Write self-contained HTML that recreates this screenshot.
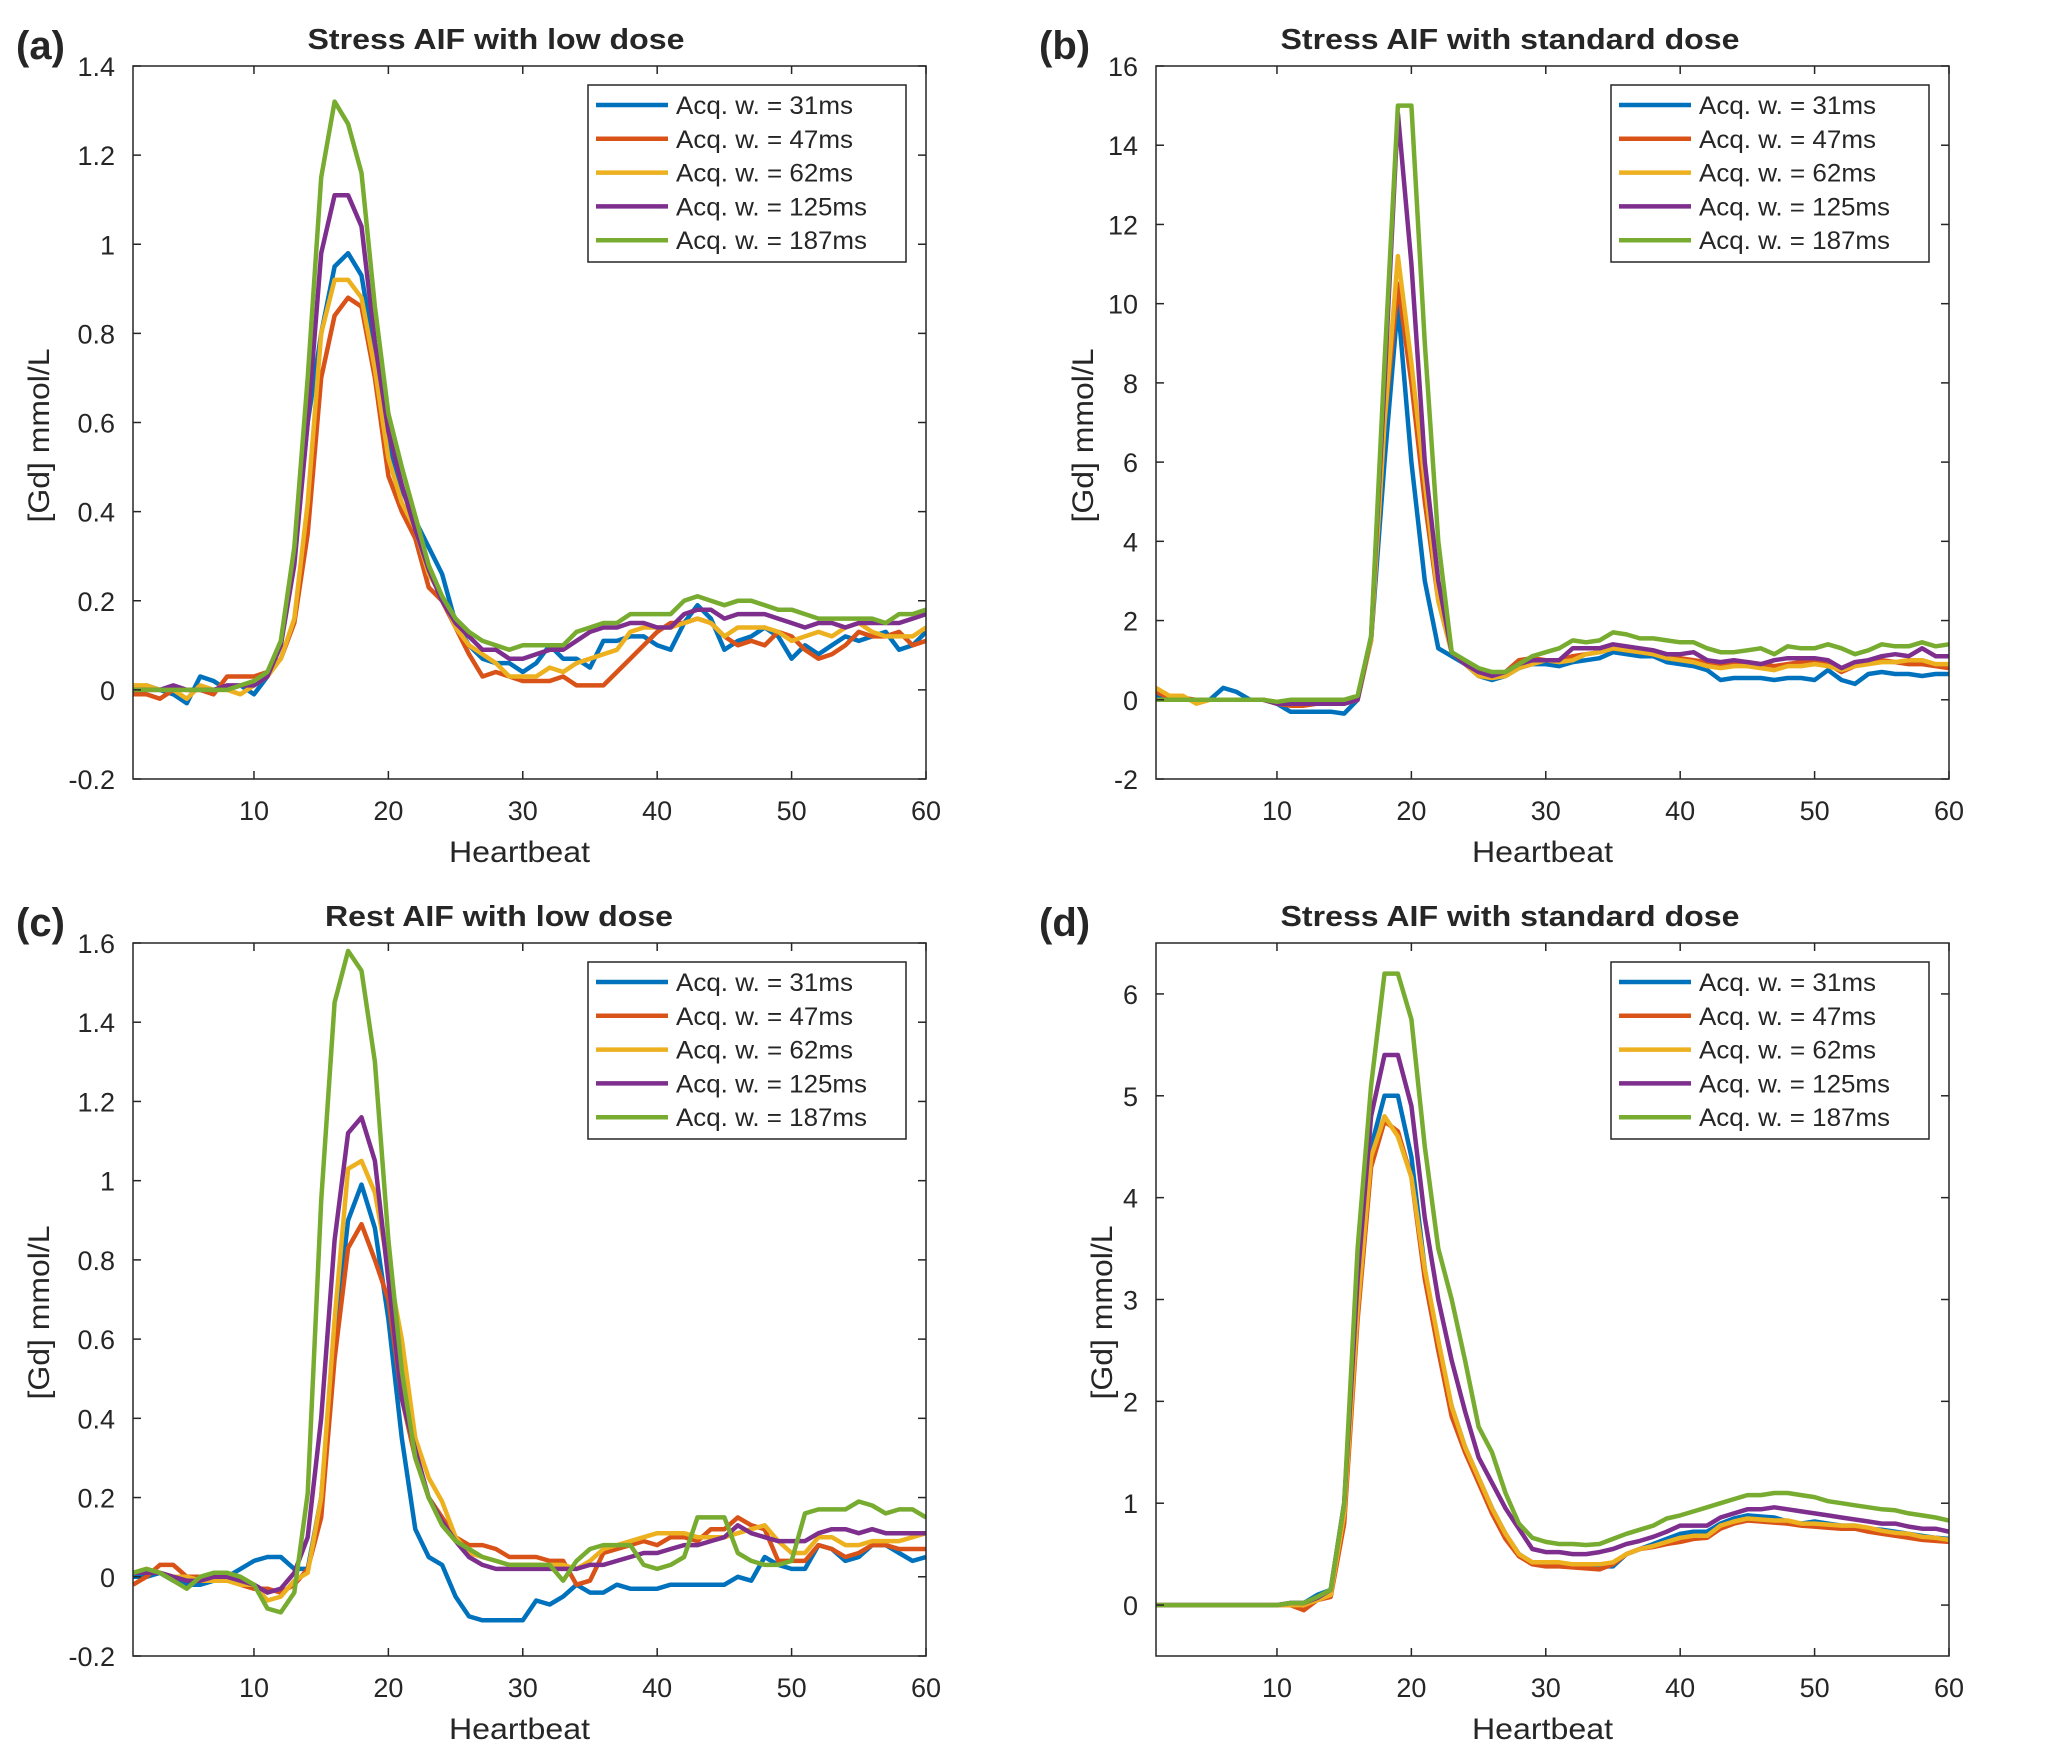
<!DOCTYPE html>
<html><head><meta charset="utf-8"><style>
html,body{margin:0;padding:0;background:#fff}
svg{display:block}
text{font-family:"Liberation Sans",Arial,sans-serif;fill:#262626}
</style></head><body>
<svg id="fig" width="2045" height="1753" viewBox="0 0 2045 1753" xmlns="http://www.w3.org/2000/svg"></svg>
<script>
const xs = Array.from({length:60},(_,i)=>i+1);
const seriesNames = ["Acq. w. = 31ms","Acq. w. = 47ms","Acq. w. = 62ms","Acq. w. = 125ms","Acq. w. = 187ms"];
const seriesColors = ["#0072BD","#D95319","#EDB120","#7E2F8E","#77AC30"];

const aBlue=[-0.01,0.01,0,-0.01,-0.03,0.03,0.02,0,0.01,-0.01,0.03,0.1,0.3,0.6,0.8,0.95,0.98,0.93,0.75,0.55,0.45,0.38,0.32,0.26,0.15,0.1,0.07,0.06,0.06,0.04,0.06,0.1,0.07,0.07,0.05,0.11,0.11,0.12,0.12,0.1,0.09,0.15,0.19,0.16,0.09,0.11,0.12,0.14,0.12,0.07,0.1,0.08,0.1,0.12,0.11,0.12,0.13,0.09,0.1,0.13];
const aOrange=[-0.01,-0.01,-0.02,0,0,0,-0.01,0.03,0.03,0.03,0.04,0.07,0.15,0.35,0.7,0.84,0.88,0.86,0.7,0.48,0.4,0.34,0.23,0.2,0.14,0.08,0.03,0.04,0.03,0.02,0.02,0.02,0.03,0.01,0.01,0.01,0.04,0.07,0.1,0.13,0.15,0.15,0.16,0.15,0.12,0.1,0.11,0.1,0.13,0.12,0.09,0.07,0.08,0.1,0.13,0.12,0.12,0.13,0.1,0.11];
const aYellow=[0.01,0.01,0,0,-0.02,0.01,0,0,-0.01,0.01,0.03,0.07,0.16,0.42,0.8,0.92,0.92,0.88,0.72,0.52,0.42,0.36,0.26,0.21,0.14,0.1,0.08,0.06,0.03,0.03,0.03,0.05,0.04,0.06,0.07,0.08,0.09,0.13,0.14,0.14,0.14,0.15,0.16,0.15,0.12,0.14,0.14,0.14,0.13,0.11,0.12,0.13,0.12,0.14,0.15,0.13,0.12,0.12,0.12,0.14];
const aPurple=[0,0,0,0.01,0,0,0,0.01,0.01,0.01,0.03,0.1,0.28,0.6,0.98,1.11,1.11,1.04,0.78,0.58,0.46,0.36,0.27,0.2,0.15,0.12,0.09,0.09,0.07,0.07,0.08,0.09,0.09,0.11,0.13,0.14,0.14,0.15,0.15,0.14,0.14,0.17,0.18,0.18,0.16,0.17,0.17,0.17,0.16,0.15,0.14,0.15,0.15,0.14,0.15,0.15,0.15,0.15,0.16,0.17];
const aGreen=[0,0,0,0,0,0,0,0,0.01,0.02,0.04,0.11,0.32,0.7,1.15,1.32,1.27,1.16,0.86,0.62,0.5,0.39,0.28,0.21,0.16,0.13,0.11,0.1,0.09,0.1,0.1,0.1,0.1,0.13,0.14,0.15,0.15,0.17,0.17,0.17,0.17,0.2,0.21,0.2,0.19,0.2,0.2,0.19,0.18,0.18,0.17,0.16,0.16,0.16,0.16,0.16,0.15,0.17,0.17,0.18];

const bBlue=[0.1,0,0,0,0,0.3,0.2,0,0,-0.1,-0.3,-0.3,-0.3,-0.3,-0.35,0,1.5,6,10,6,3,1.3,1.1,0.9,0.6,0.5,0.6,0.8,0.9,0.9,0.85,0.95,1.0,1.05,1.2,1.15,1.1,1.1,0.95,0.9,0.85,0.75,0.5,0.55,0.55,0.55,0.5,0.55,0.55,0.5,0.75,0.5,0.4,0.65,0.7,0.65,0.65,0.6,0.65,0.65];
const bOrange=[0.2,0.05,0.05,0,0,0,0,0,0,-0.1,-0.15,-0.15,-0.1,-0.1,-0.1,0,1.5,7,10.5,8,5,2.5,1.2,0.9,0.7,0.6,0.7,1.0,1.05,1.0,1.0,1.1,1.15,1.2,1.3,1.25,1.2,1.15,1.1,1.05,1.0,0.95,0.85,0.9,0.95,0.9,0.85,0.9,0.95,0.95,0.9,0.7,0.85,0.95,1.0,0.95,0.9,0.9,0.85,0.8];
const bYellow=[0.3,0.1,0.1,-0.1,0,0,0,0,0,-0.1,-0.1,-0.1,-0.1,-0.1,-0.1,0,1.5,7,11.2,8.5,5.5,2.5,1.2,0.9,0.6,0.55,0.6,0.8,0.9,1.0,0.95,1.0,1.15,1.2,1.3,1.25,1.2,1.15,1.05,1.0,0.95,0.85,0.8,0.85,0.85,0.8,0.75,0.85,0.85,0.9,0.85,0.75,0.85,0.9,0.95,0.95,1.0,1.0,0.9,0.9];
const bPurple=[0,0,0,0,0,0,0,0,0,-0.1,-0.1,-0.1,-0.1,-0.1,-0.1,0,1.6,8,14.8,11,6,3,1.2,0.9,0.7,0.6,0.7,0.9,1.0,1.0,1.0,1.3,1.3,1.3,1.4,1.35,1.3,1.25,1.15,1.15,1.2,1.0,0.95,1.0,0.95,0.9,1.0,1.05,1.05,1.05,1.0,0.8,0.95,1.0,1.1,1.15,1.1,1.3,1.1,1.1];
const bGreen=[0,0,0,0,0,0,0,0,0,-0.05,0,0,0,0,0,0.1,1.6,8.5,15,15,9,4,1.2,1.0,0.8,0.7,0.7,0.9,1.1,1.2,1.3,1.5,1.45,1.5,1.7,1.65,1.55,1.55,1.5,1.45,1.45,1.3,1.2,1.2,1.25,1.3,1.15,1.35,1.3,1.3,1.4,1.3,1.15,1.25,1.4,1.35,1.35,1.45,1.35,1.4];

const cBlue=[0,0,0.01,-0.01,-0.02,-0.02,-0.01,0,0.02,0.04,0.05,0.05,0.02,0.02,0.2,0.6,0.9,0.99,0.88,0.65,0.35,0.12,0.05,0.03,-0.05,-0.1,-0.11,-0.11,-0.11,-0.11,-0.06,-0.07,-0.05,-0.02,-0.04,-0.04,-0.02,-0.03,-0.03,-0.03,-0.02,-0.02,-0.02,-0.02,-0.02,0,-0.01,0.05,0.03,0.02,0.02,0.08,0.07,0.04,0.05,0.08,0.08,0.06,0.04,0.05];
const cOrange=[-0.02,0,0.03,0.03,0,0,0,0,-0.02,-0.03,-0.03,-0.04,-0.02,0.02,0.15,0.55,0.83,0.89,0.8,0.7,0.45,0.3,0.2,0.15,0.1,0.08,0.08,0.07,0.05,0.05,0.05,0.04,0.04,-0.02,-0.01,0.06,0.07,0.08,0.09,0.08,0.1,0.1,0.09,0.12,0.12,0.15,0.13,0.12,0.04,0.04,0.04,0.08,0.07,0.05,0.06,0.08,0.08,0.07,0.07,0.07];
const cYellow=[0.01,0.02,0.01,0,0,-0.01,-0.01,-0.01,-0.02,-0.02,-0.06,-0.05,-0.01,0.01,0.2,0.65,1.03,1.05,0.97,0.78,0.6,0.35,0.25,0.19,0.1,0.06,0.05,0.04,0.03,0.03,0.03,0.03,0.03,0.02,0.04,0.07,0.08,0.09,0.1,0.11,0.11,0.11,0.1,0.1,0.1,0.11,0.12,0.13,0.09,0.06,0.06,0.1,0.1,0.08,0.08,0.09,0.09,0.09,0.1,0.11];
const cPurple=[0.01,0.01,0.01,0,-0.01,-0.01,0,0,-0.01,-0.02,-0.04,-0.03,0.01,0.1,0.4,0.85,1.12,1.16,1.05,0.75,0.45,0.32,0.2,0.14,0.09,0.05,0.03,0.02,0.02,0.02,0.02,0.02,0.02,0.02,0.03,0.03,0.04,0.05,0.06,0.06,0.07,0.08,0.08,0.09,0.1,0.13,0.11,0.1,0.09,0.09,0.09,0.11,0.12,0.12,0.11,0.12,0.11,0.11,0.11,0.11];
const cGreen=[0.01,0.02,0.01,-0.01,-0.03,0,0.01,0.01,0,-0.02,-0.08,-0.09,-0.04,0.21,0.95,1.45,1.58,1.53,1.3,0.85,0.52,0.3,0.2,0.13,0.09,0.07,0.05,0.04,0.03,0.03,0.03,0.03,-0.01,0.04,0.07,0.08,0.08,0.08,0.03,0.02,0.03,0.05,0.15,0.15,0.15,0.06,0.04,0.03,0.03,0.04,0.16,0.17,0.17,0.17,0.19,0.18,0.16,0.17,0.17,0.15];

const dBlue=[0,0,0,0,0,0,0,0,0,0,0.02,0.02,0.1,0.15,1.0,3.0,4.5,5.0,5.0,4.4,3.3,2.5,1.95,1.55,1.25,0.95,0.7,0.5,0.42,0.4,0.4,0.38,0.38,0.38,0.38,0.5,0.55,0.6,0.65,0.7,0.72,0.72,0.8,0.85,0.88,0.87,0.86,0.82,0.8,0.82,0.8,0.78,0.78,0.75,0.74,0.72,0.7,0.68,0.66,0.65];
const dOrange=[0,0,0,0,0,0,0,0,0,0,0,-0.05,0.05,0.08,0.8,2.8,4.3,4.75,4.65,4.2,3.2,2.5,1.85,1.5,1.2,0.9,0.65,0.48,0.4,0.38,0.38,0.37,0.36,0.35,0.4,0.5,0.55,0.57,0.6,0.62,0.65,0.66,0.75,0.8,0.83,0.82,0.81,0.8,0.78,0.77,0.76,0.75,0.75,0.72,0.7,0.68,0.66,0.64,0.63,0.62];
const dYellow=[0,0,0,0,0,0,0,0,0,0,0,0,0.05,0.1,0.9,2.9,4.4,4.8,4.6,4.2,3.3,2.6,1.95,1.55,1.25,0.95,0.7,0.5,0.42,0.42,0.42,0.4,0.4,0.4,0.42,0.5,0.55,0.58,0.62,0.66,0.68,0.68,0.78,0.82,0.85,0.84,0.83,0.83,0.8,0.8,0.79,0.78,0.78,0.76,0.73,0.71,0.7,0.67,0.66,0.64];
const dPurple=[0,0,0,0,0,0,0,0,0,0,0.02,0.02,0.07,0.15,1.0,3.2,4.8,5.4,5.4,4.9,3.8,3.0,2.4,1.9,1.45,1.2,0.95,0.75,0.55,0.52,0.52,0.5,0.5,0.52,0.55,0.6,0.63,0.67,0.72,0.78,0.78,0.78,0.86,0.9,0.94,0.94,0.96,0.94,0.92,0.9,0.88,0.86,0.84,0.82,0.8,0.8,0.77,0.75,0.75,0.72];
const dGreen=[0,0,0,0,0,0,0,0,0,0,0.02,0.02,0.08,0.15,1.0,3.5,5.1,6.2,6.2,5.75,4.5,3.5,3.0,2.4,1.75,1.5,1.1,0.8,0.66,0.62,0.6,0.6,0.59,0.6,0.65,0.7,0.74,0.78,0.85,0.88,0.92,0.96,1.0,1.04,1.08,1.08,1.1,1.1,1.08,1.06,1.02,1.0,0.98,0.96,0.94,0.93,0.9,0.88,0.86,0.83];

const xTicks=[10,20,30,40,50,60];
const aTicks=[-0.2,0,0.2,0.4,0.6,0.8,1,1.2,1.4];
const bTicks=[-2,0,2,4,6,8,10,12,14,16];
const cTicks=[-0.2,0,0.2,0.4,0.6,0.8,1,1.2,1.4,1.6];
const dTicks=[0,1,2,3,4,5,6];

const NS="http://www.w3.org/2000/svg";
const svg=document.getElementById('fig');
function mk(tag,attrs,parent){const e=document.createElementNS(NS,tag);for(const k in attrs)e.setAttribute(k,attrs[k]);(parent||svg).appendChild(e);return e;}

const panels=[
 {id:'a',L:133,T:66,title:'Stress AIF with low dose',tx:496,tl:377,ymin:-0.2,ymax:1.4,ticks:aTicks,ylx:38,data:[aBlue,aOrange,aYellow,aPurple,aGreen]},
 {id:'b',L:1156,T:66,title:'Stress AIF with standard dose',tx:1510,tl:459,ymin:-2,ymax:16,ticks:bTicks,ylx:1082,data:[bBlue,bOrange,bYellow,bPurple,bGreen]},
 {id:'c',L:133,T:943,title:'Rest AIF with low dose',tx:499,tl:348,ymin:-0.2,ymax:1.6,ticks:cTicks,ylx:38,data:[cBlue,cOrange,cYellow,cPurple,cGreen]},
 {id:'d',L:1156,T:943,title:'Stress AIF with standard dose',tx:1510,tl:459,ymin:-0.5,ymax:6.5,ticks:dTicks,ylx:1101,data:[dBlue,dOrange,dYellow,dPurple,dGreen]}
];
const W=793,H=713;

panels.forEach(p=>{
  const g=mk('g',{});
  
  
  const X=v=>p.L+(v-1)/59*W;
  const Y=v=>p.T+H-(v-p.ymin)/(p.ymax-p.ymin)*H;
  const sg=mk('g',{'clip-path':'url(#clip'+p.id+')'},g);
  const cp=mk('clipPath',{id:'clip'+p.id},g);
  mk('rect',{x:p.L,y:p.T,width:W,height:H},cp);
  p.data.forEach((arr,si)=>{
    const d=arr.map((v,i)=>(i?'L':'M')+X(xs[i]).toFixed(1)+' '+Y(v).toFixed(1)).join(' ');
    const path=mk('path',{d:d,fill:'none',stroke:seriesColors[si],'stroke-width':4.5,'stroke-linejoin':'round'},sg);
    
    
  });
  const box=mk('rect',{x:p.L,y:p.T,width:W,height:H,fill:'none',stroke:'#262626','stroke-width':1.5},g);
  
  
  xTicks.forEach(t=>{
    const x=X(t);
    mk('line',{x1:x,y1:p.T+H,x2:x,y2:p.T+H-8,stroke:'#262626','stroke-width':1.5},g);
    mk('line',{x1:x,y1:p.T,x2:x,y2:p.T+8,stroke:'#262626','stroke-width':1.5},g);
    const tl=mk('text',{x:x,y:p.T+H+41,'font-size':27,'text-anchor':'middle'},g);
    tl.textContent=t;
    
    
  });
  p.ticks.forEach(t=>{
    const y=Y(t);
    mk('line',{x1:p.L,y1:y,x2:p.L+8,y2:y,stroke:'#262626','stroke-width':1.5},g);
    mk('line',{x1:p.L+W,y1:y,x2:p.L+W-8,y2:y,stroke:'#262626','stroke-width':1.5},g);
    const tl=mk('text',{x:p.L-18,y:y+10,'font-size':27,'text-anchor':'end'},g);
    tl.textContent=String(t);
    
    
  });
  const xl=mk('text',{x:p.L+W/2-10,y:p.T+H+83,'font-size':30,'text-anchor':'middle',textLength:141,lengthAdjust:'spacingAndGlyphs'},g);
  xl.textContent='Heartbeat';
  
  
  const cy=p.T+H/2+13;
  const yl=mk('text',{x:p.ylx+11,y:cy,'font-size':30,'text-anchor':'middle',transform:'rotate(-90 '+(p.ylx+11)+' '+cy+')',textLength:174,lengthAdjust:'spacingAndGlyphs'},g);
  yl.textContent='[Gd] mmol/L';
  
  
  const tt=mk('text',{x:p.tx,y:p.T-17,'font-size':29,'font-weight':'bold','text-anchor':'middle',fill:'#000',textLength:p.tl,lengthAdjust:'spacingAndGlyphs'},g);
  tt.textContent=p.title;
  
  
  const pl=mk('text',{x:p.L-117,y:p.T-7,'font-size':40,'font-weight':'bold',fill:'#000'},g);
  pl.textContent='('+p.id+')';
  
  
  const lg=mk('g',{},g);
  
  
  const lx=p.L+455, ly=p.T+19;
  mk('rect',{x:lx,y:ly,width:318,height:177,fill:'#fff',stroke:'#262626','stroke-width':1.5},lg);
  seriesNames.forEach((n,i)=>{
    const yy=ly+20+i*33.8;
    const e=mk('g',{},lg);
    
    
    mk('line',{x1:lx+8,y1:yy,x2:lx+80,y2:yy,stroke:seriesColors[i],'stroke-width':4.5},e);
    const t=mk('text',{x:lx+88,y:yy+9,'font-size':25,fill:'#000',textLength:(i>=3?191:177),lengthAdjust:'spacingAndGlyphs'},e);
    t.textContent=n;
  });
});
</script>
</body></html>
